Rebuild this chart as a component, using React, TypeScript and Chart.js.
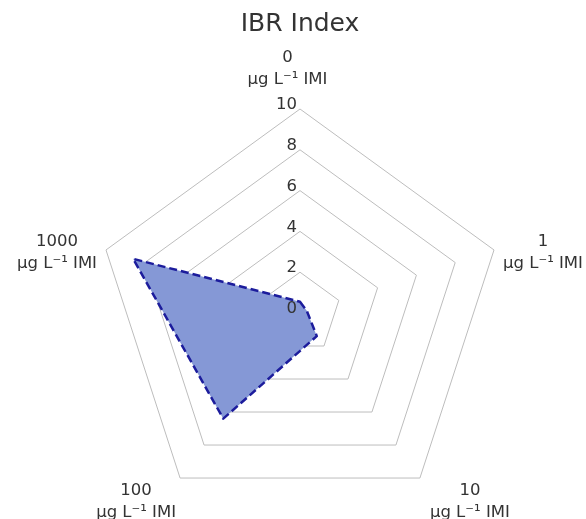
import React, { useEffect, useRef } from "react";
import { Chart, registerables } from "chart.js";

Chart.register(...registerables);

const chartTitle = "IBR Index";
const concentrations = ["0", "1", "10", "100", "1000"];
const unitLabel = "μg L⁻¹ IMI";
const ibrValues = [0.55, 0.35, 1.4, 6.4, 8.6];
const scaleMin = 0;
const scaleMax = 10;
const scaleStep = 2;

const FONT = "'DejaVu Sans', Verdana, sans-serif";
const TEXT = "#333333";

// Excel-like placement of the category labels relative to each outer vertex
const labelPlacement = [
  { align: "center", dx: -12.5, dy: -47 },
  { align: "left", dx: 9, dy: -4 },
  { align: "left", dx: 10, dy: 17 },
  { align: "right", dx: -4, dy: 17 },
  { align: "right", dx: -9, dy: -4 },
];

const excelLabels = {
  id: "excelLabels",
  afterDraw(chart: any) {
    const scale = chart.scales.r;
    const ctx = chart.ctx;
    ctx.save();
    ctx.font = `16.5px ${FONT}`;
    ctx.fillStyle = TEXT;
    // radial ticks, placed left of the vertical axis
    ctx.textAlign = "right";
    ctx.textBaseline = "middle";
    scale.ticks.forEach((t: any) => {
      const d = scale.getDistanceFromCenterForValue(t.value);
      ctx.fillText(String(t.value), scale.xCenter - 3, scale.yCenter - d - 4);
    });
    // category labels
    ctx.textAlign = "center";
    ctx.textBaseline = "alphabetic";
    (chart.data.labels as string[][]).forEach((lines, i) => {
      const p = scale.getPointPosition(i, scale.drawingArea);
      const w = Math.max(...lines.map((l) => ctx.measureText(l).width));
      const pl = labelPlacement[i];
      let cx = p.x + pl.dx;
      if (pl.align === "left") cx = p.x + pl.dx + w / 2;
      else if (pl.align === "right") cx = p.x + pl.dx - w / 2;
      lines.forEach((l, k) => ctx.fillText(l, cx, p.y + pl.dy + k * 22));
    });
    ctx.restore();
  },
};

export default function App() {
  const ref = useRef<HTMLCanvasElement | null>(null);
  useEffect(() => {
    if (!ref.current) return;
    const chart = new Chart(ref.current, {
      type: "radar",
      data: {
        labels: concentrations.map((c) => [c, unitLabel]),
        datasets: [
          {
            data: ibrValues,
            backgroundColor: "#8598d6",
            borderColor: "#1c1c9c",
            borderWidth: 2.5,
            borderDash: [8, 4],
            borderJoinStyle: "round",
            pointRadius: 0,
            pointHoverRadius: 0,
            fill: true,
          },
        ],
      },
      options: {
        responsive: false,
        animation: false,
        layout: { padding: { left: 96, right: 82, top: 0, bottom: 2 } },
        plugins: {
          legend: { display: false },
          tooltip: { enabled: false },
          title: {
            display: true,
            text: chartTitle,
            color: TEXT,
            font: { family: FONT, size: 25, weight: "normal" },
            padding: { top: 9, bottom: 70 },
          },
        },
        scales: {
          r: {
            min: scaleMin,
            max: scaleMax,
            ticks: { display: false, stepSize: scaleStep },
            pointLabels: { display: false },
            grid: { color: "#bdbdbd", lineWidth: 1 },
            angleLines: { display: false },
          },
        },
      },
      plugins: [excelLabels],
    });
    return () => chart.destroy();
  }, []);
  return (
    <div style={{ position: "absolute", left: 0, top: 0, width: 586, height: 519, background: "#fff" }}>
      <canvas ref={ref} width={586} height={519} />
    </div>
  );
}
